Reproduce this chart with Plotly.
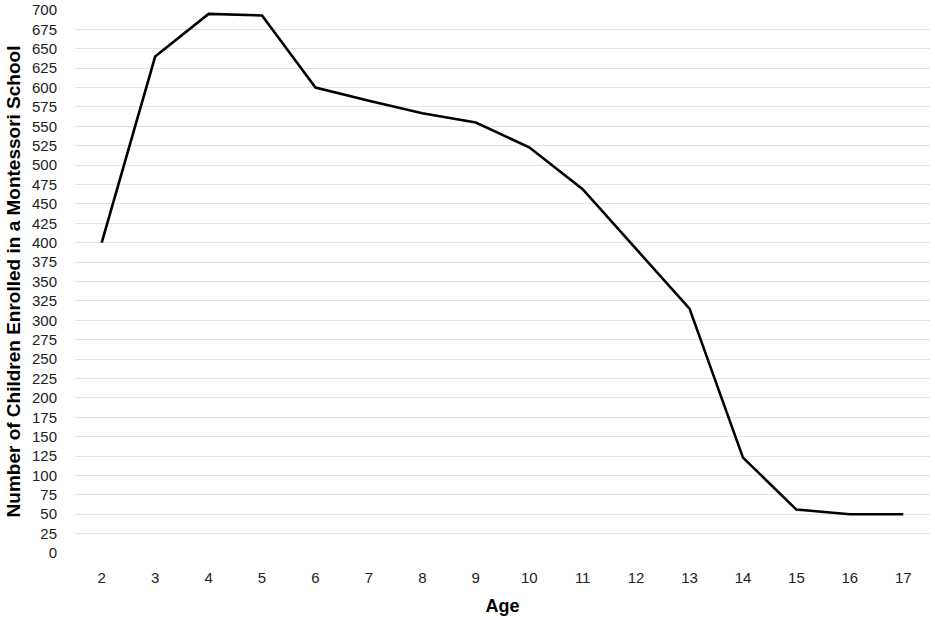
import plotly.graph_objects as go

ages = [str(a) for a in range(2, 18)]
enrolled = [400, 640, 695, 693, 600, 583, 567, 555, 523, 469, 392, 315, 123, 56, 50, 50]
y_ticks = list(range(0, 701, 25))

fig = go.Figure()
fig.add_trace(go.Scatter(
    x=ages, y=enrolled, mode="lines",
    line=dict(color="black", width=2.6),
    showlegend=False,
))

font_family = "Liberation Sans, Arial, sans-serif"

fig.update_layout(
    width=935, height=620,
    margin=dict(l=75, r=5, t=10, b=67),
    paper_bgcolor="white", plot_bgcolor="white",
    font=dict(family=font_family, color="black", size=15),
    xaxis=dict(
        type="category",
        range=[-0.5, 15.5],
        automargin=False,
        showgrid=False, zeroline=False, showline=False,
        ticks="", ticklabelstandoff=14,
        tickfont=dict(size=15, color="#222"),
        title=dict(text="<b>Age</b>", font=dict(size=18, color="black"), standoff=14),
    ),
    yaxis=dict(
        range=[0, 700],
        automargin=False,
        tickvals=y_ticks,
        showgrid=True, gridcolor="#e3e3e3", gridwidth=1.3,
        zeroline=False, showline=False,
        ticks="", ticklabelstandoff=17,
        tickfont=dict(size=15, color="#222"),
        title=dict(text="<b>Number of Children Enrolled in a Montessori School</b>",
                   font=dict(size=19, color="black"), standoff=6),
    ),
)

fig.write_html("out.html", config={"displayModeBar": False},
               post_script="document.body.style.margin='0';")
